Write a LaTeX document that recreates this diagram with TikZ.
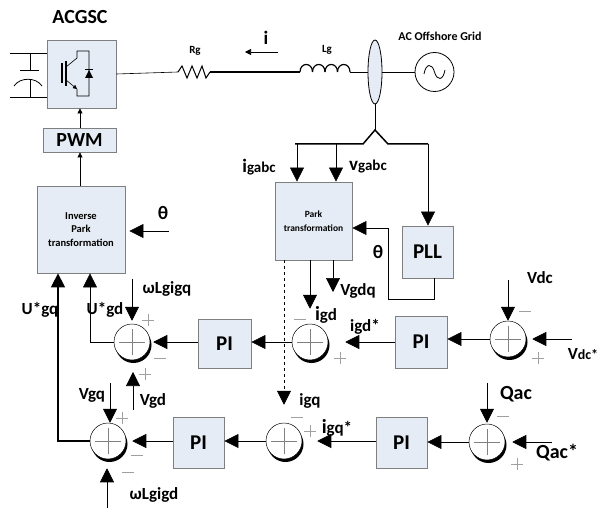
\documentclass[tikz,border=0pt]{standalone}
\usepackage{fontspec}
\setmainfont{Carlito}
\usetikzlibrary{arrows.meta,shapes.geometric,shadows}
\definecolor{boxfill}{HTML}{E6ECF5}
\definecolor{boxline}{HTML}{7F7F7F}
\definecolor{signgray}{HTML}{A0A0A0}
\newcommand\fsz[1]{\fontsize{#1}{#1}\selectfont}
\newcommand\plusat[1]{\draw[signline] (#1)+(-6,0) -- +(6,0) (#1)+(0,-6) -- +(0,6);}
\newcommand\minusat[1]{\draw[signline] (#1)+(-6,0) -- +(6,0);}
\tikzset{
  blk/.style={draw=boxline, fill=boxfill, line width=0.8pt, inner sep=0pt},
  sumc/.style={circle, draw, fill=white, minimum size=36pt, inner sep=0pt, line width=0.5pt,
    general shadow={fill=black, shadow xshift=1.5pt, shadow yshift=-3pt}},
  sig/.style={line width=0.6pt, -{Triangle[length=14pt,width=14pt]}},
  smallarr/.style={line width=0.6pt, -{Triangle[length=5pt,width=5pt]}},
  lbl/.style={font=\bfseries\fsz{17}, inner sep=0pt},
  signline/.style={draw=signgray, line width=0.6pt},
  wire/.style={line width=0.6pt},
}
\begin{document}
\begin{tikzpicture}[x=1pt,y=-1pt]
\useasboundingbox (0,0) rectangle (600,508);

% ---------- blocks ----------
\node[blk, minimum width=69pt, minimum height=68pt] (conv) at (81.5,74) {};
\node[blk, minimum width=73pt, minimum height=24pt, font=\bfseries\fsz{20}] (pwm) at (79.5,140) {PWM};
\node[blk, minimum width=88pt, minimum height=87pt, align=center,
      font=\bfseries\fontsize{10.5}{13.5}\selectfont] (ipark) at (81,229.5) {Inverse\\Park\\transformation};
\node[blk, minimum width=77pt, minimum height=78pt, align=center,
      font=\bfseries\fontsize{9.5}{14}\selectfont] (park) at (313.5,221) {Park\\transformation};
\node[blk, minimum width=51pt, minimum height=52pt, font=\bfseries\fsz{21}] (pll) at (427.5,252) {PLL};
\node[blk, minimum width=53pt, minimum height=49pt, font=\bfseries\fsz{21}] (pi1) at (224.5,343.5) {PI};
\node[blk, minimum width=52pt, minimum height=52pt, font=\bfseries\fsz{21}] (pi2) at (421,342) {PI};
\node[blk, minimum width=51pt, minimum height=51pt, font=\bfseries\fsz{21}] (pi3) at (198.5,442.5) {PI};
\node[blk, minimum width=51pt, minimum height=51pt, font=\bfseries\fsz{21}] (pi4) at (401.5,442.5) {PI};

% ---------- summing junctions ----------
\node[sumc] (S1) at (132,342) {};
\node[sumc] (S2) at (310,342) {};
\node[sumc] (S3) at (508,339) {};
\node[sumc] (S4) at (108,441) {};
\node[sumc] (S5) at (284,441) {};
\node[sumc] (S6) at (487,442) {};
\foreach \s in {S1,S2,S3,S4,S5,S6}
  \draw[draw=gray, line width=0.4pt] (\s)+(-13,0) -- +(13,0) (\s)+(0,-13) -- +(0,13);

% ---------- power circuit ----------
\node[font=\bfseries\fsz{20}, inner sep=0pt] (acgsc) at (80,17) {ACGSC};
\node[ellipse, draw, fill=boxfill, minimum width=14pt, minimum height=64pt, inner sep=0pt, line width=0.8pt] (bus) at (375,72) {};
\node[circle, draw, minimum size=39pt, inner sep=0pt, line width=0.8pt] (src) at (434.5,72) {};
\draw[line width=0.8pt] (424,74) .. controls (426,63) and (432,63) .. (434.5,72) .. controls (437,81) and (443,81) .. (445,70);
\node[font=\bfseries\fsz{12}, inner sep=0pt] (gridlbl) at (440,36) {AC Offshore Grid};
\node[font=\bfseries\fsz{11}, inner sep=0pt] (rglbl) at (195,51) {Rg};
\node[font=\bfseries\fsz{11}, inner sep=0pt] (lglbl) at (327,50) {Lg};
\node[font=\bfseries\fsz{19}, inner sep=0pt] (ilbl) at (266,38) {i};

\coordinate (r1) at (178,72);
\coordinate (r2) at (210,72);
\coordinate (l1) at (300,72);
\coordinate (l2) at (350,72);
\draw[wire] (conv.east) -- (r1);
\draw[line width=1pt] (r1) -- ++(4,-6) -- ++(5,12) -- ++(5,-12) -- ++(5,12) -- ++(5,-12) -- ++(4,12) -- ++(4,-6);
\draw[line width=1.5pt] (r2) -- (l1);
\foreach \k in {0,1,2,3}
  \draw[line width=1.2pt] ({300+12.5*\k},72) .. controls ({300+12.5*\k},62) and ({312.5+12.5*\k},62) .. ({312.5+12.5*\k},72);
\draw[wire] (l2) -- (bus.west);
\draw[wire] (bus.east) -- (src.west);
\coordinate (ia) at (278,52);
\coordinate (ib) at (245,52);
\draw[line width=0.6pt, -{Triangle[length=6pt,width=6pt]}] (ia) -- (ib);

% DC side
\coordinate (dct) at (10,53);
\coordinate (dcb) at (10,97);
\draw[wire] (dct) -- (dct -| conv.west);
\draw[wire] (dcb) -- (dcb -| conv.west);
\draw[wire] (30,53) -- (30,70) (20,70) -- (39,70);
\draw[line width=0.8pt] (14,86) .. controls (20,77) and (36,77) .. (42,86);
\draw[wire] (30,80) -- (30,97);

% IGBT + diode
\draw[line width=1.4pt] (62,63) -- (62,83);
\draw[line width=1.4pt] (66,61) -- (66,86);
\draw[wire] (66,67) -- (77,58) -- (77,51) -- (89,51) -- (89,96) -- (77,96) -- (77,89);
\draw[wire, -{Triangle[length=4pt,width=4pt]}] (66,80) -- (77,89);
\fill (85,78) -- (93,78) -- (89,70) -- cycle;
\draw[wire] (85,69.5) -- (93,69.5);

% ---------- measurement bus ----------
\coordinate (hub) at (375,130);
\coordinate (ti) at (297,144);
\coordinate (tv) at (336,144);
\coordinate (tp) at (428,144);
\draw[wire] (bus.south) -- (hub);
\draw[line width=1.5pt] (295,144) -- (363,144) -- (hub) -- (388,144) -- (tp);
\draw[sig] (tp) -- (tp |- pll.north);
\draw[sig] (ti) -- (ti |- park.north);
\draw[sig] (tv) -- (tv |- park.north);
\node[lbl, font=\bfseries\fsz{15}] (igabc) at (259,167) {{\fsz{19}i}gabc};
\node[lbl, font=\bfseries\fsz{15}] (vgabc) at (368,167) {{\fsz{19}v}gabc};

% PLL theta feedback
\coordinate (pllo) at (434,278);
\draw[sig] (pllo) -- (434,299) -- (388,299) -- (388,228) -- (park.east |- 0,228);
\node[lbl, font=\bfseries\fsz{19}] (th2) at (378,252) {θ};

% Park outputs
\coordinate (vq) at (333,292);
\draw[sig] (park.south -| vq) -- (vq);
\node[lbl] (vgdq) at (358,291) {Vgdq};
\draw[sig, shorten >=15pt] (park.south -| S2) -- (S2.north);
\node[lbl] (igd) at (326,315) {{\fsz{20}i}gd};
\draw[sig, dashed, shorten >=18pt] (park.south -| S5) -- (S5.north);
\node[lbl] (igq) at (310,401) {igq};

% ---------- d-axis chain ----------
\coordinate (vdcin) at (508,280);
\coordinate (vdcref) at (572,339);
\draw[sig] (vdcin) -- (S3.north);
\draw[sig, shorten >=6pt] (vdcref) -- (S3.east);
\node[lbl] (vdc) at (540,278) {Vdc};
\node[lbl] (vdcs) at (583,354) {V{\fsz{14}dc*}};
\minusat{525,311}
\plusat{538,358}
\draw[sig] (S3.west) -- (S3.west -| pi2.east);
\draw[sig, shorten >=17pt] (pi2.west) -- (S2.east);
\node[lbl] (igds) at (365,327) {igd*};
\minusat{300,319}
\plusat{340,358}
\draw[sig] (S2.west) -- (pi1.east |- S2.west);
\draw[sig, shorten >=3pt] (pi1.west |- S1.east) -- (S1.east);
\coordinate (wq) at (132,279);
\draw[sig, shorten >=3pt] (wq) -- (S1.north);
\node[lbl] (wlgigq) at (167,289) {ωLgigq};
\plusat{148,320}
\minusat{160,358}
\plusat{145,374}
\coordinate (vgdin) at (133,410);
\draw[sig] (vgdin) -- (vgdin |- 0,372);
\node[lbl] (vgd) at (153,401) {Vgd};
\draw[sig] (S1.west) -- (S1.west -| 90,0) -- (ipark.south -| 90,0);
\node[lbl] (ugd) at (105,310) {U*gd};

% theta into inverse Park
\coordinate (thin) at (169,231);
\draw[sig, shorten >=4pt] (thin) -- (ipark.east |- thin);
\node[lbl, font=\bfseries\fsz{19}] (th1) at (163,213) {θ};

% PWM chain
\draw[smallarr] (ipark.north -| 80,0) -- (pwm.south -| 80,0);
\draw[smallarr] (pwm.north -| 80,0) -- (conv.south -| 80,0);

% ---------- q-axis chain ----------
\coordinate (qin) at (487,383);
\coordinate (qref) at (552,442);
\draw[sig, shorten >=1pt] (qin) -- (S6.north);
\draw[sig, shorten >=7pt] (qref) -- (S6.east);
\node[lbl, font=\bfseries\fsz{20}] (qac) at (516,394) {Qac};
\node[lbl, font=\bfseries\fsz{20}] (qacs) at (557,453) {Qac*};
\minusat{503,416}
\plusat{517,464}
\draw[sig] (S6.west) -- (pi4.east |- S6.west);
\draw[sig, shorten >=15pt] (pi4.west |- S5.east) -- (S5.east);
\node[lbl] (igqs) at (337,428) {{\fsz{20}i}gq*};
\minusat{297,417}
\plusat{310,431}
\draw[sig] (S5.west) -- (pi3.east |- S5.west);
\draw[sig, shorten >=6pt] (pi3.west |- S4.east) -- (S4.east);
\coordinate (vgqin) at (110,383);
\draw[sig] (vgqin) -- (vgqin |- S4.north);
\node[lbl] (vgq) at (92,395) {Vgq};
\plusat{122,418}
\minusat{137,455}
\minusat{128,472}
\coordinate (wd) at (107,508);
\draw[sig, shorten >=9pt] (wd) -- (wd |- S4.south);
\node[lbl] (wlgigd) at (154,495) {ωLgigd};
\draw[sig, line width=1.5pt] (S4.west) -- (S4.west -| 58,0) -- (ipark.south -| 58,0);
\node[lbl] (ugq) at (40,310) {U*gq};
\end{tikzpicture}
\end{document}
